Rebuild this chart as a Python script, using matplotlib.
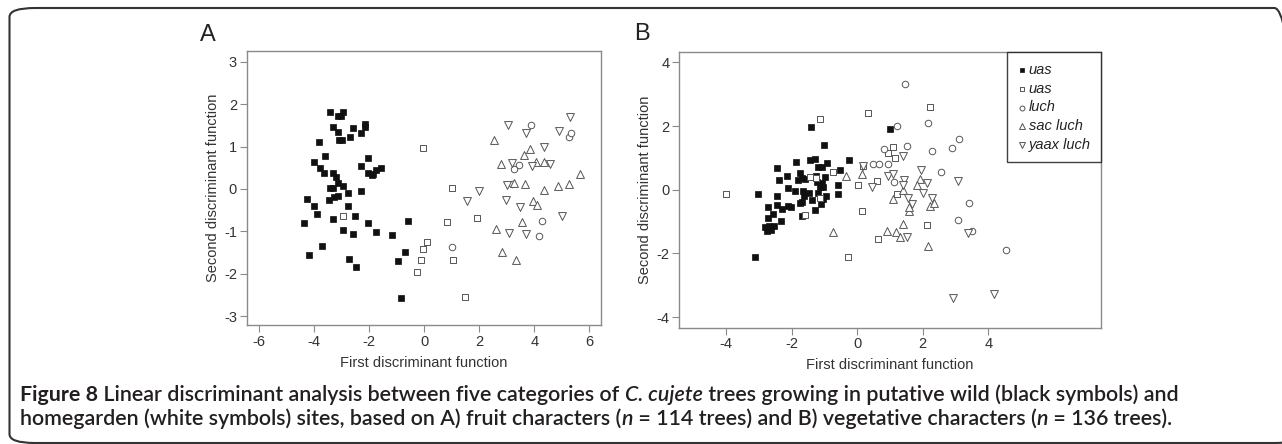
import numpy as np
import matplotlib
matplotlib.use("Agg")
import matplotlib.pyplot as plt
from matplotlib.patches import FancyBboxPatch

W, H = 1282, 444

# === panel A: fruit characters ===
a_wild = [(-3.43, 1.82), (-3.13, 1.73), (-2.95, 1.82), (-3.03, 1.71), (-3.33, 1.45), (-3.13, 1.35),
          (-2.60, 1.44), (-2.16, 1.52), (-2.16, 1.45), (-2.30, 1.31), (-2.70, 1.22), (-3.10, 1.16),
          (-2.98, 1.16), (-3.83, 1.10), (-3.61, 0.78), (-4.00, 0.64), (-3.79, 0.50), (-3.65, 0.38),
          (-3.33, 0.37), (-3.21, 0.29), (-2.04, 0.74), (-2.30, 0.53), (-2.03, 0.37), (-1.86, 0.36),
          (-1.77, 0.45), (-1.59, 0.50), (-1.91, 0.33), (-3.13, 0.13), (-2.95, 0.06), (-3.43, 0.02),
          (-3.31, 0.03), (-2.76, -0.10), (-2.30, -0.06), (-4.25, -0.24), (-3.45, -0.26), (-3.28, -0.20),
          (-3.15, -0.17), (-4.00, -0.40), (-2.76, -0.40), (-3.91, -0.59), (-3.33, -0.71), (-2.52, -0.64),
          (-4.36, -0.81), (-2.06, -0.80), (-2.96, -0.97), (-2.60, -1.06), (-1.74, -1.02), (-1.19, -1.08),
          (-0.58, -0.75), (-3.72, -1.34), (-4.20, -1.56), (-2.72, -1.66), (-2.49, -1.85), (-0.70, -1.49),
          (-0.95, -1.70), (-0.86, -2.58)]
a_uas = [(-2.96, -0.64), (-0.06, 0.96), (1.00, 0.02), (0.84, -0.77), (1.93, -0.68), (0.09, -1.26),
         (-0.04, -1.42), (-0.12, -1.67), (-0.25, -1.95), (1.05, -1.67), (1.49, -2.54)]
a_luch = [(3.87, 1.51), (5.27, 1.23), (5.35, 1.33), (3.44, 0.57), (3.26, 0.46), (3.18, 0.12),
          (4.29, -0.75), (4.17, -1.12), (1.02, -1.38)]
a_sac = [(2.55, 1.16), (3.84, 0.94), (3.64, 0.80), (2.78, 0.59), (4.08, 0.64), (4.35, 0.64),
         (5.66, 0.35), (3.26, 0.13), (3.68, 0.12), (4.37, -0.02), (4.85, 0.07), (5.26, 0.12),
         (3.94, -0.28), (4.09, -0.39), (3.56, -0.77), (2.61, -0.95), (2.84, -1.48), (3.33, -1.67)]
a_yaax = [(5.32, 1.69), (3.05, 1.51), (3.70, 1.33), (4.91, 1.36), (4.37, 0.98), (3.18, 0.62),
          (3.91, 0.53), (4.59, 0.58), (3.00, 0.09), (1.99, -0.05), (1.54, -0.28), (2.96, -0.25),
          (3.50, -0.42), (5.00, -0.64), (3.08, -1.03), (3.70, -1.06)]

# === panel B: vegetative characters ===
b_wild = [(-1.41, 1.97), (-1.01, 1.41), (-0.24, 0.92), (-2.45, 0.68), (-1.87, 0.86), (-1.44, 0.92),
          (-1.29, 0.96), (-0.93, 0.83), (-1.19, 0.71), (-1.06, 0.71), (-0.52, 0.63), (-2.13, 0.44),
          (-2.39, 0.31), (-1.74, 0.52), (-1.69, 0.37), (-1.59, 0.33), (-1.80, 0.31), (-1.24, 0.42),
          (-0.99, 0.40), (-1.22, 0.23), (-1.13, 0.10), (-1.03, 0.08), (-0.59, 0.14), (-0.59, -0.13),
          (-2.12, 0.05), (-1.90, -0.05), (-1.65, -0.05), (-1.47, -0.10), (-3.01, -0.13), (-2.45, -0.21),
          (-1.63, -0.21), (-1.39, -0.31), (-1.09, -0.26), (-0.95, -0.21), (-1.09, -0.44), (-1.74, -0.41),
          (-2.44, -0.48), (-2.71, -0.54), (-2.30, -0.61), (-2.12, -0.52), (-2.01, -0.54), (-1.29, -0.65),
          (-2.58, -0.75), (-1.69, -0.82), (-2.72, -0.89), (-2.31, -0.97), (-2.81, -1.18), (-2.74, -1.28),
          (-2.64, -1.26), (-2.54, -1.15), (-2.68, -1.15), (-3.12, -2.11), (1.00, 1.91), (-1.18, -0.10),
          (-1.03, -0.30), (-1.69, -0.37), (-1.06, 0.20)]
b_uas = [(-4.01, -0.13), (-1.13, 2.21), (-0.73, 0.55), (-1.44, 0.41), (-1.24, 0.38), (0.02, 0.14),
         (-1.13, -0.26), (-1.58, -0.79), (-0.27, -2.10), (0.34, 2.41), (2.22, 2.60), (1.08, 1.33),
         (0.95, 1.17), (1.15, 1.00), (0.19, 0.75), (0.61, 0.26), (1.20, -0.13), (0.16, -0.68),
         (2.12, -1.10), (0.64, -1.54)]
b_luch = [(1.46, 3.32), (1.20, 2.01), (2.17, 2.09), (3.11, 1.60), (2.90, 1.31), (2.29, 1.23),
          (1.51, 1.36), (0.83, 1.29), (0.49, 0.82), (0.66, 0.81), (0.95, 0.82), (2.55, 0.56),
          (1.13, 0.24), (3.42, -0.40), (3.08, -0.94), (3.49, -1.28), (4.53, -1.89)]
b_sac = [(-0.35, 0.44), (0.14, 0.49), (-0.75, -1.31), (1.39, 0.00), (1.10, -0.29), (1.91, 0.34),
         (2.22, -0.50), (2.35, -0.42), (1.59, -0.66), (1.41, -1.07), (0.92, -1.28), (1.18, -1.34),
         (1.30, -1.47), (2.17, -1.78), (1.81, 0.16), (1.59, -0.55)]
b_yaax = [(1.41, 1.05), (0.19, 0.75), (0.44, 0.10), (0.95, 0.42), (1.10, 0.50), (1.43, 0.31),
          (1.41, 0.16), (1.95, 0.63), (2.12, 0.21), (3.08, 0.26), (2.02, -0.10), (2.27, -0.26),
          (1.66, -0.44), (1.56, -0.26), (1.53, -1.49), (3.39, -1.36), (2.93, -3.40), (4.17, -3.28)]

legend_labels = ["uas", "uas", "luch", "sac luch", "yaax luch"]

plt.rcParams["font.family"] = ["Liberation Sans", "DejaVu Sans"]
plt.rcParams["axes.unicode_minus"] = False  # the original uses plain hyphens

EDGE = "#555555"
STYLES = [
    dict(marker="s", s=21, facecolor="#111111", edgecolor="#111111", linewidths=0.5),
    dict(marker="s", s=17, facecolor="white", edgecolor=EDGE, linewidths=0.7),
    dict(marker="o", s=22, facecolor="white", edgecolor=EDGE, linewidths=0.7),
    dict(marker="^", s=32, facecolor="white", edgecolor=EDGE, linewidths=0.7),
    dict(marker="v", s=32, facecolor="white", edgecolor=EDGE, linewidths=0.7),
]


def px_rect(left, top, right, bottom):
    return [left / W, 1 - bottom / H, (right - left) / W, (bottom - top) / H]


def style_axes(ax):
    for sp in ax.spines.values():
        sp.set_color("#8a8a8a")
        sp.set_linewidth(1.0)
    ax.tick_params(direction="out", length=5, width=0.8, color="#8a8a8a",
                   labelsize=10.5, labelcolor="#333333", pad=2)
    ax.set_xlabel("First discriminant function", fontsize=10.5, color="#333333", labelpad=5)
    ax.set_ylabel("Second discriminant function", fontsize=10.5, color="#333333", labelpad=3)


def draw_groups(ax, groups):
    handles = []
    for pts, st in zip(groups, STYLES):
        arr = np.array(pts)
        handles.append(ax.scatter(arr[:, 0], arr[:, 1], zorder=3, **st))
    return handles


fig = plt.figure(figsize=(W / 100, H / 100), dpi=100)

# outer rounded frame
frame = FancyBboxPatch((9.5 / W, 1 - 443 / H), (1300 - 9.5) / W, (443 - 8) / H,
                       boxstyle="round,pad=0,rounding_size=0.02", transform=fig.transFigure,
                       facecolor="none", edgecolor="#333333", linewidth=1.5, clip_on=False)
fig.patches.append(frame)

axA = fig.add_axes(px_rect(246.7, 50.7, 601, 325))
draw_groups(axA, [a_wild, a_uas, a_luch, a_sac, a_yaax])
axA.set_xlim(-6.46, 6.43)
axA.set_ylim(-3.21, 3.26)
axA.set_xticks([-6, -4, -2, 0, 2, 4, 6])
axA.set_yticks([-3, -2, -1, 0, 1, 2, 3])
style_axes(axA)

axB = fig.add_axes(px_rect(679.3, 52.5, 1101, 327.7))
hB = draw_groups(axB, [b_wild, b_uas, b_luch, b_sac, b_yaax])
axB.set_xlim(-5.42, 7.43)
axB.set_ylim(-4.33, 4.31)
axB.set_xticks([-4, -2, 0, 2, 4])
axB.set_yticks([-4, -2, 0, 2, 4])
style_axes(axB)

leg = axB.legend(hB, legend_labels, loc="upper right", borderaxespad=0, fancybox=False,
                 frameon=True, edgecolor="#111111", handlelength=0.6, handletextpad=0.2,
                 labelspacing=0.33, borderpad=0.7, markerscale=0.75,
                 prop=dict(size=10.5, style="italic"))
leg.get_frame().set_linewidth(1.0)
for t in leg.get_texts():
    t.set_color("#222222")

fig.text(208 / W, 1 - 35 / H, "A", fontsize=17, ha="center", va="center", color="#222222")
fig.text(642 / W, 1 - 34 / H, "B", fontsize=17, ha="center", va="center", color="#222222")

# caption, placed run by run
renderer = fig.canvas.get_renderer()
CAP_FAMILY = ["Lato", "DejaVu Sans"]
line1 = [("Figure 8", "bold", "normal"),
         (" Linear discriminant analysis between five categories of ", "semibold", "normal"),
         ("C. cujete", "semibold", "italic"),
         (" trees growing in putative wild (black symbols) and", "semibold", "normal")]
line2 = [("homegarden (white symbols) sites, based on A) fruit characters (", "semibold", "normal"),
         ("n", "semibold", "italic"),
         (" = 114 trees) and B) vegetative characters (", "semibold", "normal"),
         ("n", "semibold", "italic"),
         (" = 136 trees).", "semibold", "normal")]


def run_width(text, size, weight, style):
    # measure with a guard char so leading/trailing spaces count
    t = fig.text(0, 0, "|" + text + "|", fontsize=size, fontweight=weight, fontstyle=style,
                 family=CAP_FAMILY)
    w = t.get_window_extent(renderer).width
    t.set_text("||")
    w -= t.get_window_extent(renderer).width
    t.remove()
    return w


def draw_line(runs, x0, yc, size):
    x = x0
    for text, weight, style in runs:
        fig.text(x / W, 1 - yc / H, text, fontsize=size, fontweight=weight, fontstyle=style,
                 family=CAP_FAMILY, ha="left", va="center", color="#231f20")
        x += run_width(text, size, weight, style)


base = 10.0
w1 = sum(run_width(t, base, wt, st) for t, wt, st in line1)
cap_size = base * (1178 - 20) / w1
draw_line(line1, 20, 395, cap_size)
draw_line(line2, 20, 419, cap_size)

fig.savefig("out.png", dpi=100)
